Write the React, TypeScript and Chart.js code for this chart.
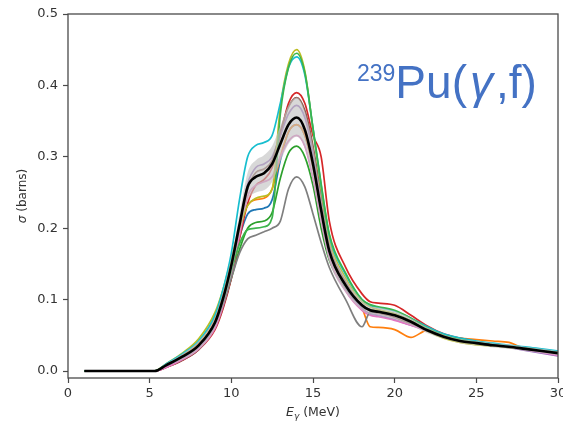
import React, { useEffect, useRef } from "react";
import { Chart, registerables } from "chart.js";
Chart.register(...registerables);

// Photon energy grid (MeV)
const energy = [1, 5.3, 6, 7, 8, 9, 9.5, 10, 10.5, 11, 11.5, 12, 12.5, 13, 13.5, 14, 14.5, 15, 15.5, 16, 17, 18, 18.5, 19, 20, 21, 22, 23, 24, 25, 26, 27, 28, 29, 30];

const xTicks = [0, 5, 10, 15, 20, 25, 30];
const yTicks = [0, 0.1, 0.2, 0.3, 0.4, 0.5];

// Individual evaluations (barns)
const sBlue = [0, 0, 0.008, 0.02, 0.036, 0.07, 0.102, 0.142, 0.188, 0.22, 0.226, 0.228, 0.24, 0.295, 0.335, 0.345, 0.33, 0.285, 0.225, 0.168, 0.12, 0.092, 0.086, 0.083, 0.078, 0.068, 0.056, 0.048, 0.042, 0.039, 0.036, 0.033, 0.03, 0.027, 0.024];
const sOrange = [0, 0, 0.009, 0.022, 0.04, 0.075, 0.108, 0.15, 0.2, 0.232, 0.24, 0.242, 0.255, 0.3, 0.335, 0.345, 0.33, 0.285, 0.225, 0.17, 0.122, 0.088, 0.062, 0.061, 0.058, 0.047, 0.057, 0.05, 0.046, 0.044, 0.042, 0.04, 0.031, 0.028, 0.025];
const sGreen = [0, 0, 0.007, 0.018, 0.033, 0.062, 0.092, 0.13, 0.17, 0.2, 0.208, 0.21, 0.222, 0.27, 0.305, 0.315, 0.3, 0.26, 0.2, 0.155, 0.115, 0.09, 0.086, 0.084, 0.08, 0.07, 0.057, 0.048, 0.042, 0.039, 0.036, 0.033, 0.031, 0.028, 0.025];
const sRed = [0, 0, 0.005, 0.015, 0.03, 0.058, 0.088, 0.13, 0.185, 0.235, 0.26, 0.268, 0.285, 0.33, 0.375, 0.39, 0.375, 0.33, 0.3, 0.21, 0.145, 0.108, 0.097, 0.095, 0.092, 0.078, 0.063, 0.052, 0.046, 0.041, 0.037, 0.034, 0.031, 0.028, 0.025];
const sPurple = [0, 0, 0.006, 0.017, 0.032, 0.062, 0.095, 0.138, 0.2, 0.262, 0.285, 0.29, 0.3, 0.33, 0.36, 0.372, 0.355, 0.305, 0.235, 0.17, 0.118, 0.088, 0.08, 0.078, 0.072, 0.064, 0.058, 0.05, 0.045, 0.041, 0.037, 0.033, 0.029, 0.025, 0.021];
const sBrown = [0, 0, 0.005, 0.015, 0.03, 0.06, 0.09, 0.132, 0.195, 0.255, 0.278, 0.283, 0.295, 0.335, 0.37, 0.383, 0.365, 0.315, 0.245, 0.178, 0.125, 0.092, 0.084, 0.081, 0.075, 0.066, 0.058, 0.05, 0.045, 0.041, 0.037, 0.034, 0.031, 0.028, 0.025];
const sPink = [0, 0, 0.005, 0.016, 0.031, 0.06, 0.092, 0.135, 0.19, 0.245, 0.26, 0.265, 0.272, 0.3, 0.322, 0.33, 0.315, 0.27, 0.21, 0.158, 0.112, 0.085, 0.078, 0.076, 0.071, 0.064, 0.056, 0.049, 0.044, 0.04, 0.036, 0.033, 0.03, 0.026, 0.022];
const sGray = [0, 0, 0.008, 0.02, 0.035, 0.066, 0.095, 0.13, 0.165, 0.185, 0.19, 0.195, 0.2, 0.21, 0.255, 0.272, 0.258, 0.22, 0.18, 0.145, 0.1, 0.062, 0.082, 0.082, 0.078, 0.068, 0.058, 0.05, 0.045, 0.041, 0.037, 0.034, 0.031, 0.028, 0.025];
const sOlive = [0, 0, 0.01, 0.025, 0.045, 0.082, 0.115, 0.158, 0.2, 0.232, 0.242, 0.245, 0.255, 0.37, 0.43, 0.45, 0.42, 0.338, 0.255, 0.185, 0.13, 0.097, 0.09, 0.086, 0.08, 0.07, 0.056, 0.046, 0.04, 0.037, 0.035, 0.033, 0.031, 0.029, 0.027];
const sCyan = [0, 0, 0.01, 0.024, 0.042, 0.078, 0.115, 0.165, 0.24, 0.3, 0.316, 0.32, 0.33, 0.375, 0.425, 0.44, 0.415, 0.34, 0.26, 0.19, 0.135, 0.1, 0.092, 0.089, 0.084, 0.074, 0.062, 0.052, 0.046, 0.042, 0.039, 0.036, 0.034, 0.031, 0.028];
const sGreen2 = [0, 0, 0.008, 0.02, 0.036, 0.068, 0.1, 0.14, 0.178, 0.198, 0.2, 0.202, 0.215, 0.36, 0.425, 0.445, 0.418, 0.34, 0.262, 0.192, 0.137, 0.1, 0.093, 0.09, 0.085, 0.074, 0.06, 0.05, 0.044, 0.04, 0.037, 0.034, 0.032, 0.029, 0.026];

// Mean and uncertainty band
const meanXS = [0, 0, 0.008, 0.02, 0.036, 0.068, 0.102, 0.148, 0.205, 0.258, 0.272, 0.277, 0.29, 0.318, 0.345, 0.355, 0.338, 0.29, 0.225, 0.168, 0.12, 0.092, 0.085, 0.083, 0.078, 0.069, 0.057, 0.048, 0.042, 0.039, 0.036, 0.034, 0.031, 0.028, 0.025];
const bandLow = [0, 0, 0.006, 0.016, 0.03, 0.06, 0.092, 0.136, 0.19, 0.238, 0.25, 0.253, 0.265, 0.293, 0.318, 0.328, 0.312, 0.265, 0.205, 0.153, 0.11, 0.085, 0.079, 0.077, 0.072, 0.064, 0.053, 0.045, 0.039, 0.036, 0.033, 0.031, 0.028, 0.025, 0.022];
const bandHigh = [0, 0, 0.01, 0.024, 0.042, 0.076, 0.112, 0.16, 0.22, 0.278, 0.295, 0.302, 0.315, 0.343, 0.372, 0.383, 0.364, 0.315, 0.245, 0.183, 0.13, 0.099, 0.091, 0.089, 0.084, 0.074, 0.061, 0.051, 0.045, 0.042, 0.039, 0.037, 0.034, 0.031, 0.028];

const seriesList = [
  { name: "blue", color: "#1f77b4", values: sBlue },
  { name: "orange", color: "#ff7f0e", values: sOrange },
  { name: "green", color: "#2ca02c", values: sGreen },
  { name: "red", color: "#d62728", values: sRed },
  { name: "purple", color: "#9467bd", values: sPurple },
  { name: "brown", color: "#8c564b", values: sBrown },
  { name: "pink", color: "#e377c2", values: sPink },
  { name: "gray", color: "#7f7f7f", values: sGray },
  { name: "olive", color: "#bcbd22", values: sOlive },
  { name: "cyan", color: "#17becf", values: sCyan },
  { name: "green2", color: "#3cb44b", values: sGreen2 },
];

const FONT = "'DejaVu Sans', sans-serif";
const SANS = "'Liberation Sans', Arial, sans-serif";

function drawParts(ctx: CanvasRenderingContext2D, parts: { t: string; font: string; dy?: number; gap?: number }[], x: number, y: number, align: "center" | "left") {
  let total = 0;
  const widths = parts.map((p) => {
    ctx.font = p.font;
    const w = ctx.measureText(p.t).width + (p.gap || 0);
    total += w;
    return w;
  });
  let cx = align === "center" ? x - total / 2 : x;
  parts.forEach((p, i) => {
    ctx.font = p.font;
    ctx.fillText(p.t, cx + (p.gap || 0) / 2, y + (p.dy || 0));
    cx += widths[i];
  });
}

const decor = {
  id: "decor",
  afterDraw(chart: any) {
    const { ctx, chartArea: a } = chart;
    ctx.save();
    ctx.strokeStyle = "#4a4a4a";
    ctx.lineWidth = 1.3;
    ctx.strokeRect(a.left, a.top, a.right - a.left, a.bottom - a.top);

    ctx.fillStyle = "#333";
    ctx.textAlign = "left";
    ctx.textBaseline = "alphabetic";
    // x title
    drawParts(ctx, [
      { t: "E", font: `italic 12.5px ${FONT}` },
      { t: "γ", font: `italic 9px ${FONT}`, dy: 3 },
      { t: " (MeV)", font: `12.5px ${FONT}` },
    ], (a.left + a.right) / 2, 416, "center");
    // y title
    ctx.save();
    ctx.translate(26, (a.top + a.bottom) / 2);
    ctx.rotate(-Math.PI / 2);
    drawParts(ctx, [
      { t: "σ", font: `italic 12px ${FONT}` },
      { t: " (barns)", font: `12px ${FONT}` },
    ], 0, 0, "center");
    ctx.restore();

    // annotation
    ctx.fillStyle = "#4472C4";
    drawParts(ctx, [
      { t: "239", font: `23px ${SANS}`, dy: -17 },
      { t: "Pu(", font: `46px ${SANS}` },
      { t: "γ", font: `italic 46px ${SANS}`, gap: 6 },
      { t: ",f)", font: `46px ${SANS}` },
    ], 357, 98, "left");
    ctx.restore();
  },
};

export default function App() {
  const ref = useRef<HTMLCanvasElement>(null);
  useEffect(() => {
    document.body.style.margin = "0";
    const pts = (ys: number[]) => ys.map((y, i) => ({ x: energy[i], y }));
    const datasets: any[] = [
      { label: "mean", data: pts(meanXS), borderColor: "#000", borderWidth: 2.6, pointRadius: 0, fill: false, order: 0 },
      { label: "bandHigh", data: pts(bandHigh), borderColor: "transparent", borderWidth: 1, backgroundColor: "rgba(195,195,195,0.65)", pointRadius: 0, fill: "+1", order: 1 },
      { label: "bandLow", data: pts(bandLow), borderColor: "transparent", borderWidth: 1, pointRadius: 0, fill: false, order: 1 },
    ];
    seriesList.forEach((s, i) => {
      datasets.push({
        label: s.name,
        data: pts(s.values),
        borderColor: s.color,
        borderWidth: 1.7,
        pointRadius: 0,
        fill: false,
        order: 2 + (seriesList.length - i),
      });
    });

    const chart = new Chart(ref.current!, {
      type: "line",
      data: { datasets },
      options: {
        animation: false,
        responsive: false,
        devicePixelRatio: 1,
        layout: { padding: { left: 0, top: 14, right: 5, bottom: 0 } },
        elements: { line: { tension: 0, cubicInterpolationMode: "monotone" } },
        plugins: { legend: { display: false }, tooltip: { enabled: false } },
        scales: {
          x: {
            type: "linear",
            min: 0,
            max: 30,
            afterBuildTicks: (s: any) => { s.ticks = xTicks.map((v) => ({ value: v })); },
            afterFit: (s: any) => { s.height = 48; s.paddingLeft = 0; s.paddingRight = 0; },
            ticks: { font: { family: FONT, size: 13 }, color: "#333", padding: 3, maxRotation: 0, autoSkip: false },
            grid: { drawOnChartArea: false, drawTicks: true, tickLength: 5, tickColor: "#4a4a4a", tickWidth: 1.2 },
            border: { display: false },
          },
          y: {
            type: "linear",
            min: -0.0098,
            max: 0.5,
            afterBuildTicks: (s: any) => { s.ticks = yTicks.map((v) => ({ value: v })); },
            afterFit: (s: any) => { s.width = 68; s.paddingTop = 0; s.paddingBottom = 0; },
            ticks: { font: { family: FONT, size: 13 }, color: "#333", padding: 5, callback: (v: any) => Number(v).toFixed(1) },
            grid: { drawOnChartArea: false, drawTicks: true, tickLength: 5, tickColor: "#4a4a4a", tickWidth: 1.2 },
            border: { display: false },
          },
        },
      },
      plugins: [decor],
    });
    return () => chart.destroy();
  }, []);
  return <canvas ref={ref} width={563} height={426} style={{ display: "block" }} />;
}
